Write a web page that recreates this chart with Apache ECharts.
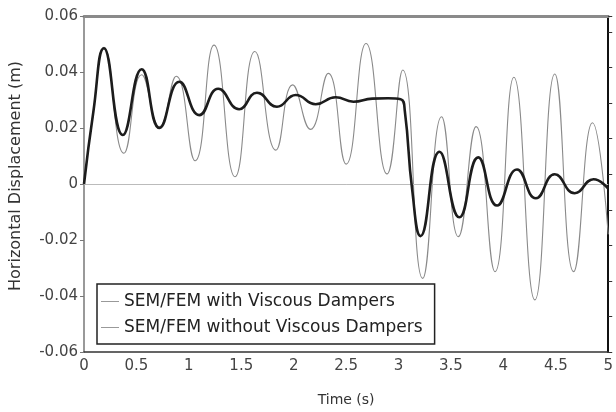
<!DOCTYPE html>
<html lang="en">
<head>
  <meta charset="UTF-8">
  <title>Horizontal Displacement</title>
  <script src="https://cdn.jsdelivr.net/npm/echarts@6/dist/echarts.min.js"></script>
  <style>
    html, body { margin: 0; padding: 0; background: #fff; }
    #chart { width: 616px; height: 412px; }
  </style>
</head>
<body>
  <div id="chart"></div>
  <script>
    // peaks / troughs of each response
    var timeWith = [0, 0.09, 0.19, 0.37, 0.55, 0.72, 0.91, 1.10, 1.28, 1.48, 1.65, 1.84, 2.02, 2.21, 2.40, 2.57, 2.75, 2.90, 3.02, 3.06, 3.13, 3.21, 3.39, 3.58, 3.76, 3.94, 4.13, 4.31, 4.49, 4.68, 4.86, 5.0];
    var dispWith = [0, 0.026, 0.0485, 0.0175, 0.041, 0.020, 0.0365, 0.0246, 0.034, 0.0267, 0.0326, 0.0276, 0.0318, 0.0285, 0.031, 0.0294, 0.0305, 0.0306, 0.0303, 0.026, -0.002, -0.0186, 0.0115, -0.0119, 0.0095, -0.0077, 0.0052, -0.0051, 0.0035, -0.0033, 0.0017, -0.0017];

    var timeWithout = [0, 0.09, 0.19, 0.38, 0.55, 0.72, 0.88, 1.06, 1.24, 1.44, 1.63, 1.83, 1.99, 2.16, 2.33, 2.50, 2.69, 2.89, 3.04, 3.23, 3.41, 3.57, 3.74, 3.92, 4.10, 4.30, 4.49, 4.67, 4.85, 5.0];
    var dispWithout = [0, 0.026, 0.0488, 0.011, 0.039, 0.0205, 0.0385, 0.0083, 0.0496, 0.0026, 0.0473, 0.0121, 0.0354, 0.0195, 0.0395, 0.0071, 0.0502, 0.0036, 0.0407, -0.0337, 0.024, -0.0188, 0.0205, -0.0313, 0.0381, -0.0414, 0.0393, -0.0313, 0.0219, -0.018];

    var seriesNames = ['SEM/FEM with Viscous Dampers', 'SEM/FEM without Viscous Dampers'];

    function pairs(xs, ys) {
      var out = [];
      for (var i = 0; i < xs.length; i++) {
        out.push([xs[i], ys[i]]);
      }
      return out;
    }

    var font = 'DejaVu Sans';
    var myChart = echarts.init(document.getElementById('chart'));

    var option = {
      animation: false,
      textStyle: { fontFamily: font },
      grid: { left: 83, right: 4, top: 16, bottom: 58 },
      legend: {
        orient: 'vertical',
        left: 97,
        top: 284,
        padding: [9, 12, 8, 4],
        icon: 'rect',
        itemWidth: 18,
        itemHeight: 1,
        itemGap: 9,
        backgroundColor: '#fff',
        borderColor: '#222',
        borderWidth: 1.5,
        borderRadius: 0,
        itemStyle: { color: '#999', borderWidth: 0 },
        textStyle: { fontFamily: font, fontSize: 17, color: '#222', lineHeight: 17 },
        data: seriesNames
      },
      xAxis: [{
        type: 'value',
        min: 0,
        max: 5,
        interval: 0.5,
        name: 'Time (s)',
        nameLocation: 'middle',
        nameGap: 41,
        nameTextStyle: { fontFamily: font, fontSize: 14, color: '#333' },
        axisLine: { onZero: false, lineStyle: { color: '#333', width: 1.5 } },
        axisTick: { show: false },
        axisLabel: { margin: 7, fontFamily: font, fontSize: 15, color: '#444' },
        splitLine: { show: false }
      }, {
        type: 'value',
        position: 'top',
        min: 0,
        max: 5,
        axisLine: { show: true, onZero: false, lineStyle: { color: '#8a8a8a', width: 3 } },
        axisTick: { show: false },
        axisLabel: { show: false },
        splitLine: { show: false }
      }],
      yAxis: [{
        type: 'value',
        min: -0.06,
        max: 0.06,
        interval: 0.02,
        name: 'Horizontal Displacement (m)',
        nameLocation: 'middle',
        nameGap: 60,
        nameTextStyle: { fontFamily: font, fontSize: 16, color: '#333', padding: [0, 0, 0, 16] },
        axisLine: { show: true, onZero: false, lineStyle: { color: '#777', width: 1.5 } },
        axisTick: { show: true, length: 4, lineStyle: { color: '#777' } },
        axisLabel: { margin: 6, fontFamily: font, fontSize: 15, color: '#444' },
        splitLine: { show: false }
      }, {
        type: 'value',
        position: 'right',
        min: 0,
        max: 9.45,
        interval: 1,
        axisLine: { show: true, onZero: false, lineStyle: { color: '#111', width: 2 } },
        axisTick: { show: true, length: 4, lineStyle: { color: '#333' } },
        axisLabel: { show: false },
        splitLine: { show: false }
      }],
      series: [{
        name: seriesNames[0],
        type: 'line',
        smooth: 0.5,
        symbol: 'none',
        z: 5,
        lineStyle: { color: '#1c1c1c', width: 2.6 },
        itemStyle: { color: '#1c1c1c' },
        data: pairs(timeWith, dispWith)
      }, {
        name: seriesNames[1],
        type: 'line',
        smooth: 0.5,
        symbol: 'none',
        z: 3,
        lineStyle: { color: '#8a8a8a', width: 1.1 },
        itemStyle: { color: '#8a8a8a' },
        data: pairs(timeWithout, dispWithout),
        markLine: {
          silent: true,
          symbol: 'none',
          label: { show: false },
          lineStyle: { color: '#bbb', width: 1, type: 'solid' },
          data: [{ yAxis: 0 }]
        }
      }]
    };
    myChart.setOption(option);
  </script>
</body>
</html>
